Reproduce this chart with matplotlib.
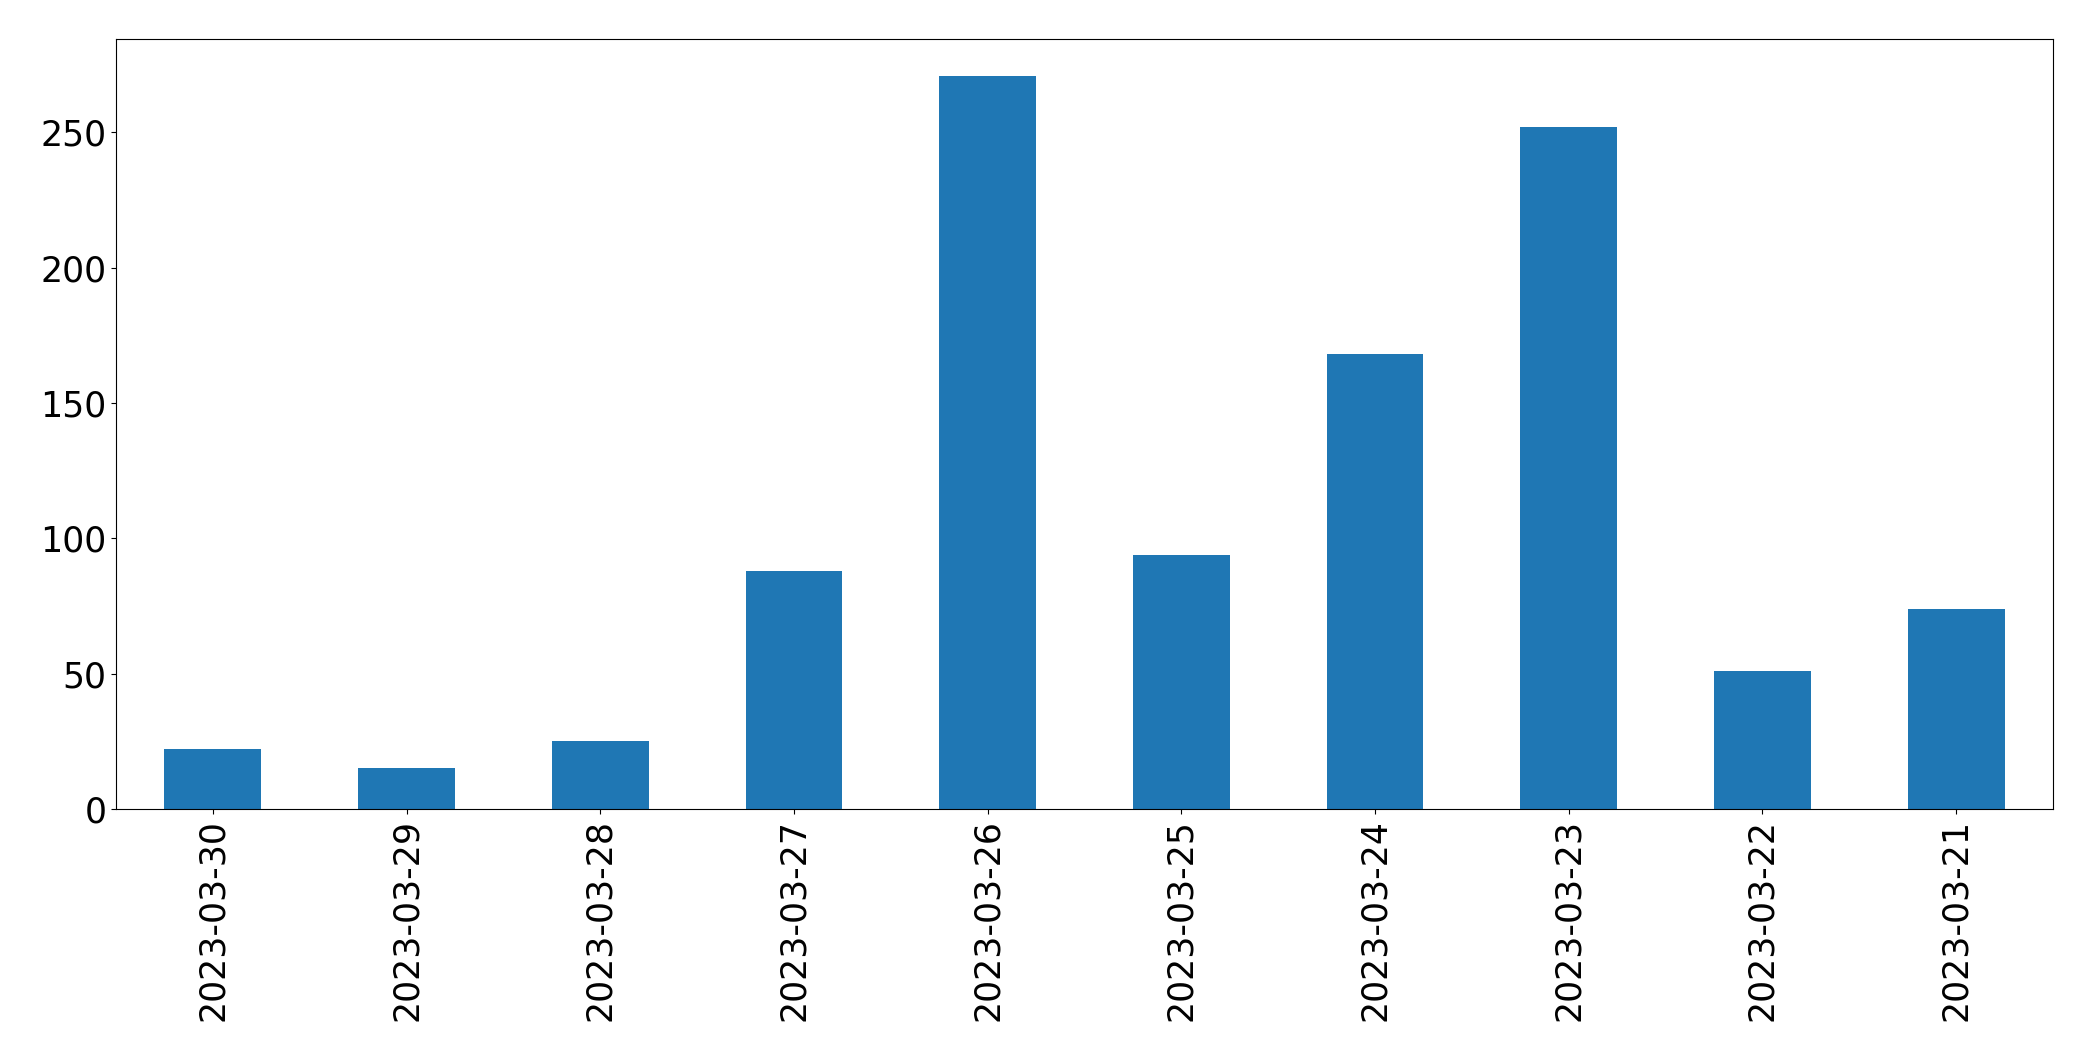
import matplotlib
matplotlib.use('Agg')
import matplotlib.pyplot as plt

dates = ['2023-03-30', '2023-03-29', '2023-03-28', '2023-03-27', '2023-03-26',
         '2023-03-25', '2023-03-24', '2023-03-23', '2023-03-22', '2023-03-21']
counts = [22, 15, 25, 88, 271, 94, 168, 252, 51, 74]

fig = plt.figure(figsize=(20.93, 10.61), dpi=100)
ax = fig.add_axes([116 / 2093, 1 - 809 / 1061, (2053 - 116) / 2093, (809 - 39) / 1061])

x = range(len(dates))
ax.bar(x, counts, width=0.5, color='#1f77b4')
ax.set_xlim(-0.5, len(dates) - 0.5)
ax.set_ylim(0, max(counts) * 1.05)
ax.set_xticks(list(x))
ax.set_xticklabels(dates, rotation=90)
ax.tick_params(labelsize=25)

fig.savefig('out.png', dpi=100)
